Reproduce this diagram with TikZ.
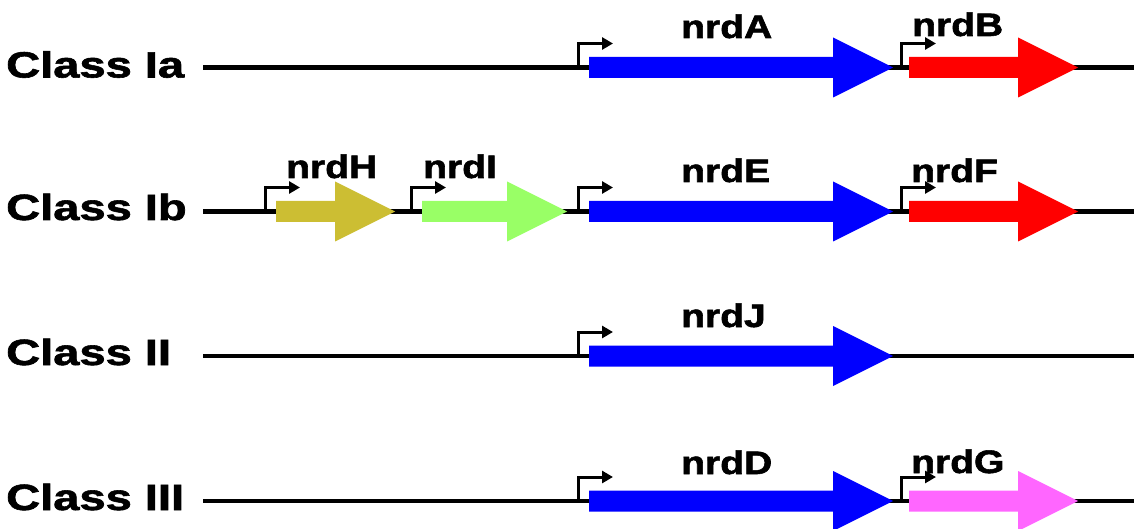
\documentclass[tikz,border=0pt]{standalone}
\usepackage{fontspec}
\setmainfont{Liberation Sans}[BoldFeatures={FakeBold=1.6}]
\usetikzlibrary{arrows.meta}

\definecolor{geneblue}{RGB}{0,0,255}
\definecolor{genered}{RGB}{255,0,0}
\definecolor{geneolive}{RGB}{204,190,51}
\definecolor{genegreen}{RGB}{153,255,102}
\definecolor{genepink}{RGB}{255,102,255}

\tikzset{
  dna/.style={line width=4.5pt, black},
  promoter/.style={line width=3pt, black, -{Triangle[length=11pt,width=12pt]}},
  classlabel/.style={anchor=base west, inner sep=0pt,
    font=\fontsize{36.5pt}{36pt}\selectfont\bfseries},
  genelabel/.style={anchor=base west, inner sep=0pt,
    font=\fontsize{32.5pt}{32pt}\selectfont\bfseries},
}

% gene arrow: start x, tip x, row y, colour
\newcommand{\genearrow}[4]{%
  \fill[#4] (#1,#3-10.5) -- (#2-60,#3-10.5) -- (#2-60,#3-30) -- (#2,#3)
    -- (#2-60,#3+30) -- (#2-60,#3+10.5) -- (#1,#3+10.5) -- cycle;}
% promoter mark: x, row y
\newcommand{\promoter}[2]{%
  \draw[promoter] (#1,#2+1) -- (#1,#2-24) -- (#1+35,#2-24);}
\newcommand{\wide}[2]{\scalebox{#1}[1]{#2}}

\begin{document}
\begin{tikzpicture}[x=1pt,y=-1pt]
\useasboundingbox (0,0) rectangle (1134,529);

% DNA backbones
\foreach \r/\yy in {a/67.5,b/211.5,c/356,d/501}{
  \coordinate (start\r) at (203,\yy);
  \coordinate (end\r) at (1134,\yy);
  \draw[dna] (start\r) -- (end\r);
}

% row labels
\node[classlabel] (lIa)  at (6,77.5)  {\wide{1.29}{Class Ia}};
\node[classlabel] (lIb)  at (6,220) {\wide{1.29}{Class Ib}};
\node[classlabel] (lII)  at (6,365) {\wide{1.29}{Class II}};
\node[classlabel] (lIII) at (6,510) {\wide{1.29}{Class III}};

% Class Ia
\promoter{578}{67.5}
\promoter{901}{67.5}
\genearrow{589}{893}{67.5}{geneblue}
\genearrow{909}{1078}{67.5}{genered}
\node[genelabel] (nA) at (681,38) {\wide{1.2}{nrdA}};
\node[genelabel] (nB) at (912,36) {\wide{1.2}{nrdB}};

% Class Ib
\promoter{265}{211.5}
\promoter{411}{211.5}
\promoter{578}{211.5}
\promoter{901}{211.5}
\genearrow{276}{395}{211.5}{geneolive}
\genearrow{422}{567}{211.5}{genegreen}
\genearrow{589}{893}{211.5}{geneblue}
\genearrow{909}{1078}{211.5}{genered}
\node[genelabel] (nH) at (286,178) {\wide{1.2}{nrdH}};
\node[genelabel] (nI) at (423,178) {\wide{1.2}{nrdI}};
\node[genelabel] (nE) at (681,182) {\wide{1.2}{nrdE}};
\node[genelabel] (nF) at (911,182) {\wide{1.2}{nrdF}};

% Class II
\promoter{578}{356}
\genearrow{589}{893}{356}{geneblue}
\node[genelabel] (nJ) at (681,327) {\wide{1.2}{nrdJ}};

% Class III
\promoter{578}{501}
\promoter{901}{501}
\genearrow{589}{893}{501}{geneblue}
\genearrow{909}{1078}{501}{genepink}
\node[genelabel] (nD) at (681,474) {\wide{1.2}{nrdD}};
\node[genelabel] (nG) at (911,473) {\wide{1.2}{nrdG}};
\end{tikzpicture}
\end{document}
